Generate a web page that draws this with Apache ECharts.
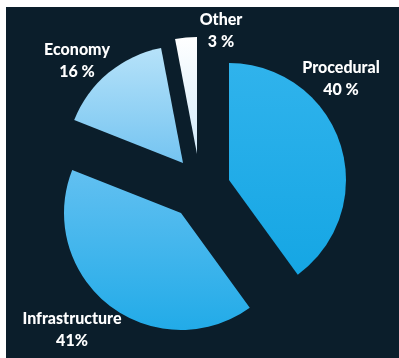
<!DOCTYPE html>
<html>
<head>
<meta charset="utf-8">
<script src="https://cdn.jsdelivr.net/npm/echarts@6/dist/echarts.min.js"></script>
<style>
  html, body { margin: 0; padding: 0; background: #ffffff; }
  #chart { width: 399px; height: 358px; }
</style>
</head>
<body>
<div id="chart"></div>
<script>
const categories = ['Procedural', 'Infrastructure', 'Economy', 'Other'];
const shares = [40, 41, 16, 3];
const shareLabels = ['40 %', '41%', '16 %', '3 %'];

// each slice is pulled out by its own amount, so each gets its own pie
const sliceCenters = [[229, 180], [181, 213], [183, 163], [197, 154]];
const labelSpots = [[341, 79], [72, 330], [77, 61], [221, 31]];
const sliceColors = [
    ['#30b3ec', '#15a6e4'],
    ['#62c0f1', '#22abe8'],
    ['#b6e2f9', '#74c4f1'],
    ['#ffffff', '#d2eafa']
];

const grad = (c) => new echarts.graphic.LinearGradient(0, 0, 0, 1, [
    {offset: 0, color: c[0]},
    {offset: 1, color: c[1]}
]);

const series = categories.map((name, k) => ({
    type: 'pie',
    silent: true,
    center: sliceCenters[k],
    radius: 117,
    startAngle: 90,
    clockwise: true,
    avoidLabelOverlap: false,
    labelLine: {show: false},
    label: {
        show: true,
        position: 'outside',
        formatter: (p) => '{a|' + p.name + '}\n{a|' + shareLabels[p.dataIndex] + '}',
        rich: {
            a: {
                color: '#ffffff',
                fontFamily: 'Lato',
                fontWeight: 900,
                fontSize: 16,
                lineHeight: 22,
                align: 'center'
            }
        }
    },
    labelLayout: () => ({
        x: labelSpots[k][0],
        y: labelSpots[k][1],
        align: 'center',
        verticalAlign: 'middle'
    }),
    data: categories.map((n, i) => i === k
        ? {name: n, value: shares[i], itemStyle: {color: grad(sliceColors[i])}}
        : {name: n, value: shares[i], itemStyle: {color: 'rgba(0,0,0,0)'}, label: {show: false}})
}));

const chart = echarts.init(document.getElementById('chart'));
chart.setOption({
    animation: false,
    backgroundColor: '#ffffff',
    graphic: [{
        type: 'rect',
        z: -10,
        shape: {x: 6, y: 7, width: 393, height: 351},
        style: {fill: '#0b1e2b'}
    }],
    series
});
</script>
</body>
</html>
